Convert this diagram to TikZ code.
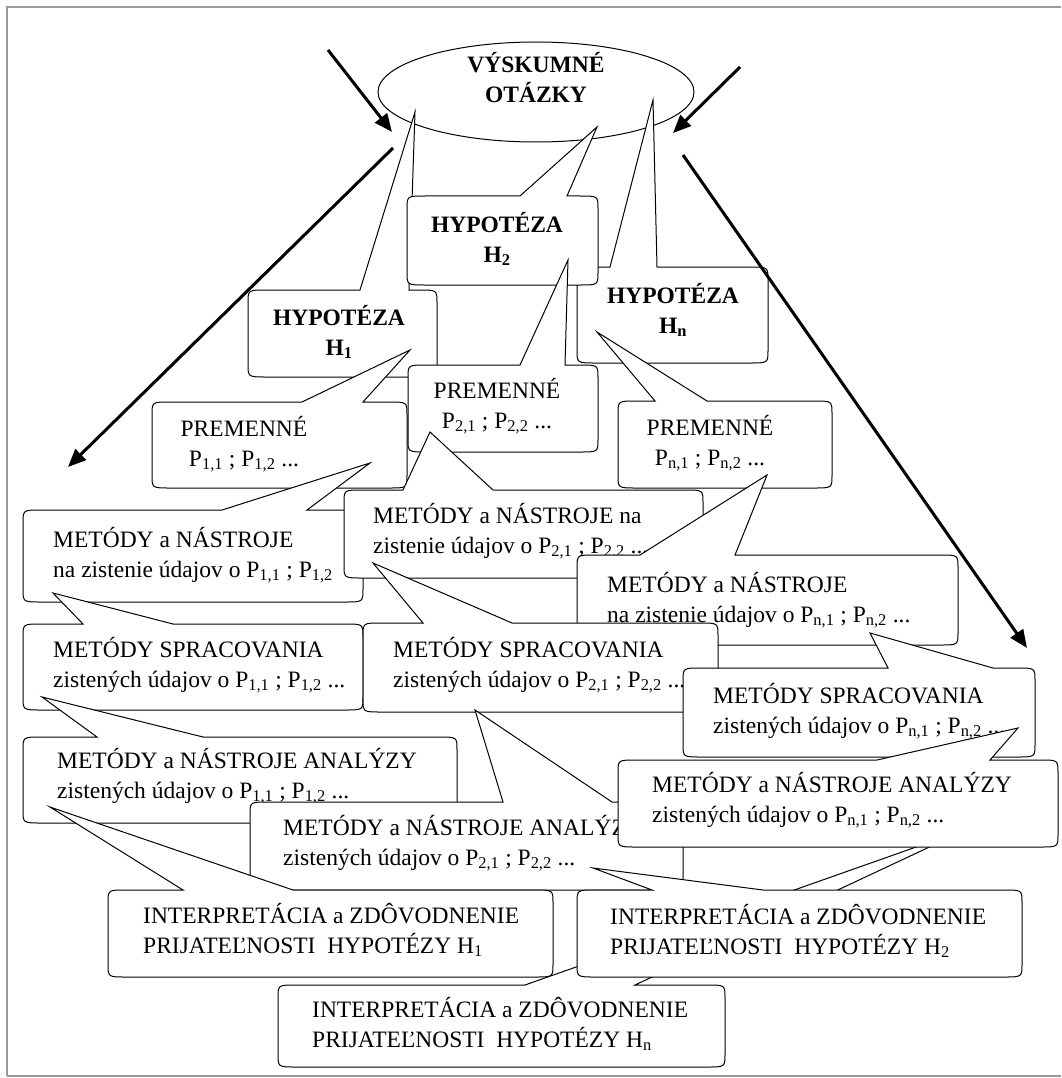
\documentclass[tikz,border=0pt]{standalone}
\usepackage{fontspec}
\setmainfont{Liberation Serif}
\usetikzlibrary{arrows.meta}

% corner size of the rounded callout bodies
\def\cornerRx{18}
\def\cornerRy{13}

% callout: body (x1,y1)-(x2,y2), wedge base on the top edge from bx1 to bx2, tip (tx,ty)
\newcommand\callout[8]{%
  \filldraw[callout line] (#7,#8) -- (#6,#2) -- ({#3-\cornerRx},#2)
    .. controls (#3,#2) .. (#3,{#2+\cornerRy}) -- (#3,{#4-\cornerRy})
    .. controls (#3,#4) .. ({#3-\cornerRx},#4) -- ({#1+\cornerRx},#4)
    .. controls (#1,#4) .. (#1,{#4-\cornerRy}) -- (#1,{#2+\cornerRy})
    .. controls (#1,#2) .. ({#1+\cornerRx},#2) -- (#5,#2) -- cycle;}

% two-line texts, baseline of the first line is the box baseline
\newcommand\twol[2]{\vtop{\hbox{#1}\hbox{#2}}}
\newcommand\twoc[2]{\vtop{\halign{\hfil##\hfil\cr#1\cr#2\cr}}}

\tikzset{
  callout line/.style={draw=black, fill=white, line width=1pt, line join=miter},
  lbl/.style={anchor=base west, inner sep=0pt, font=\fontsize{23.5}{30}\selectfont},
  clbl/.style={anchor=base, inner sep=0pt, font=\fontsize{23.5}{30}\selectfont},
  blbl/.style={anchor=base, inner sep=0pt, font=\fontsize{23.5}{30}\selectfont\bfseries},
  bigarrow/.style={line width=3pt, -{Triangle[length=18pt,width=15pt]}},
  frameline/.style={draw=black!40, line width=1.5pt}
}

\begin{document}
\begin{tikzpicture}[x=1pt,y=-1pt]
\useasboundingbox (0,0) rectangle (1061,1078);
\clip (0,0) rectangle (1061,1078);
\fill[white] (0,0) rectangle (1061,1078);
\draw[frameline] (7,1076) -- (7,7) -- (1070,7);
\draw[frameline] (7,1076) -- (1070,1076);

% research questions
\draw[callout line] (536,92) ellipse [x radius=158, y radius=50];
\node[blbl] (rq) at (536,73) {\twoc{VÝSKUMNÉ}{OTÁZKY}};

% hypotheses
\callout{577}{267}{768}{363}{610}{657}{653}{100}
\node[blbl] (hn) at (673,303) {\twoc{HYPOTÉZA}{H\textsubscript{n}}};
\callout{248}{290}{437}{377}{360}{409}{415}{112}
\node[blbl] (h1) at (339,325) {\twoc{HYPOTÉZA}{H\textsubscript{1}}};
\callout{407}{196}{598}{285}{520}{567}{597}{127}
\node[blbl] (h2) at (497,232) {\twoc{HYPOTÉZA}{H\textsubscript{2}}};

% variables
\callout{152}{402}{407}{488}{302}{363}{410}{350}
\node[clbl] (p1) at (244,436) {\twoc{PREMENNÉ}{P\textsubscript{1,1} ; P\textsubscript{1,2} ...}};
\callout{408}{365}{598}{452}{520}{565}{568}{260}
\node[clbl] (p2) at (497,398) {\twoc{PREMENNÉ}{P\textsubscript{2,1} ; P\textsubscript{2,2} ...}};
\callout{618}{401}{832}{488}{655}{707}{597}{332}
\node[clbl] (pn) at (710,435) {\twoc{PREMENNÉ}{P\textsubscript{n,1} ; P\textsubscript{n,2} ...}};

% methods and tools of data collection
\callout{23}{510}{363}{602}{222}{307}{370}{463}
\node[lbl] (m1) at (53,547) {\twol{METÓDY a NÁSTROJE}{na zistenie údajov o P\textsubscript{1,1} ; P\textsubscript{1,2}}};
\callout{344}{490}{703}{578}{403}{493}{430}{432}
\node[lbl] (m2) at (373,523) {\twol{METÓDY a NÁSTROJE na}{zistenie údajov o P\textsubscript{2,1} ; P\textsubscript{2,2} ...}};
\callout{577}{555}{958}{645}{640}{735}{767}{475}
\node[lbl] (mn) at (607,592) {\twol{METÓDY a NÁSTROJE}{na zistenie údajov o P\textsubscript{n,1} ; P\textsubscript{n,2} ...}};

% processing methods
\callout{23}{624}{363}{710}{83}{173}{53}{593}
\node[lbl] (s1) at (53,657) {\twol{METÓDY SPRACOVANIA}{zistených údajov o P\textsubscript{1,1} ; P\textsubscript{1,2} ...}};
\callout{363}{623}{718}{712}{423}{512}{373}{563}
\node[lbl] (s2) at (393,657) {\twol{METÓDY SPRACOVANIA}{zistených údajov o P\textsubscript{2,1} ; P\textsubscript{2,2} ...}};
\callout{683}{668}{1035}{757}{888}{993}{870}{633}
\node[lbl] (sn) at (713,703) {\twol{METÓDY SPRACOVANIA}{zistených údajov o P\textsubscript{n,1} ; P\textsubscript{n,2} ...}};

% analysis
\callout{23}{737}{457}{823}{97}{203}{42}{697}
\node[lbl] (a1) at (57,768) {\twol{METÓDY a NÁSTROJE ANALÝZY}{zistených údajov o P\textsubscript{1,1} ; P\textsubscript{1,2} ...}};
\callout{250}{802}{683}{890}{503}{612}{475}{710}
\node[lbl] (a2) at (283,835) {\twol{METÓDY a NÁSTROJE ANALÝZY}{zistených údajov o P\textsubscript{2,1} ; P\textsubscript{2,2} ...}};

% interpretation of H_n (its wedge runs behind the other boxes)
\callout{278}{985}{725}{1067}{525}{635}{970}{828}
\node[lbl] (in) at (312,1017) {\twol{INTERPRETÁCIA a ZDÔVODNENIE}{PRIJATEĽNOSTI~~HYPOTÉZY H\textsubscript{n}}};

\callout{618}{760}{1058}{847}{877}{990}{1018}{728}
\node[lbl] (an) at (652,792) {\twol{METÓDY a NÁSTROJE ANALÝZY}{zistených údajov o P\textsubscript{n,1} ; P\textsubscript{n,2} ...}};

% interpretation of H_1 and H_2
\callout{108}{890}{553}{977}{183}{293}{50}{807}
\node[lbl] (i1) at (143,923) {\twol{INTERPRETÁCIA a ZDÔVODNENIE}{PRIJATEĽNOSTI~~HYPOTÉZY H\textsubscript{1}}};
\callout{577}{890}{1022}{977}{652}{763}{593}{868}
\node[lbl] (i2) at (610,924) {\twol{INTERPRETÁCIA a ZDÔVODNENIE}{PRIJATEĽNOSTI~~HYPOTÉZY H\textsubscript{2}}};

% flow arrows
\coordinate (a1s) at (328,50);  \coordinate (a1e) at (392,132);
\coordinate (a2s) at (740,67);  \coordinate (a2e) at (673,133);
\coordinate (a3s) at (393,148); \coordinate (a3e) at (68,467);
\coordinate (a4s) at (683,155); \coordinate (a4e) at (1027,648);
\draw[bigarrow] (a1s) -- (a1e);
\draw[bigarrow] (a2s) -- (a2e);
\draw[bigarrow] (a3s) -- (a3e);
\draw[bigarrow] (a4s) -- (a4e);
\end{tikzpicture}
\end{document}
